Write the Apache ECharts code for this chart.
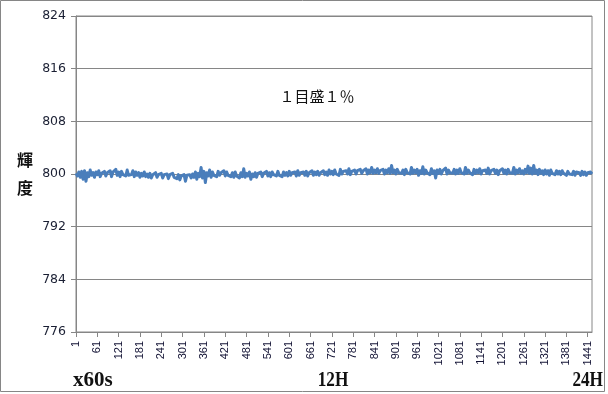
<!DOCTYPE html>
<html><head><meta charset="utf-8">
<script src="https://cdn.jsdelivr.net/npm/echarts@6/dist/echarts.min.js"></script>
<style>html,body{margin:0;padding:0;background:#fff}#c{width:608px;height:394px}</style>
</head><body><div id="c"></div>
<script>
// minute labels (sampled every 4 minutes)
var minutes = [];
for (var m = 1; m <= 1453; m += 4) minutes.push(String(m));

// luminance readings
var luminance = [
800.1,799.7,800.3,799.5,800.4,799.2,800.5,798.9,800.2,799.6,
800.6,799.8,800.2,799.5,800.3,799.9,800.5,799.6,800.1,799.8,
800.4,799.7,800.2,799.9,800.5,799.6,800.3,800.0,800.7,799.8,
800.3,799.6,800.4,799.9,800.2,799.7,800.6,799.8,800.1,799.9,
800.5,799.6,800.3,799.8,800.2,799.5,800.1,799.7,800.3,799.6,
800.0,799.5,800.1,799.4,799.9,799.6,800.2,799.5,799.9,799.7,
800.1,799.4,799.9,799.6,800.0,799.3,799.9,799.7,800.1,799.5,
799.8,799.3,799.9,799.1,799.7,799.4,799.9,798.9,799.8,799.5,
799.9,799.4,800.0,799.5,800.3,799.2,800.1,799.6,801.0,799.4,
800.4,798.7,800.2,799.7,800.6,799.5,800.3,799.8,800.1,799.6,
800.4,799.8,800.2,799.9,800.5,799.7,800.3,799.8,800.1,799.6,
800.2,799.5,800.3,799.7,800.0,799.4,800.2,799.6,800.8,799.5,
800.1,799.7,800.3,799.2,800.0,799.6,800.2,799.5,800.1,799.8,
800.3,799.6,800.1,799.8,800.4,799.7,800.2,799.6,800.3,799.9,
800.2,799.7,800.4,799.8,800.1,799.6,800.3,799.8,800.2,799.7,
800.4,799.8,800.2,799.9,800.3,799.7,800.5,799.8,800.2,799.9,
800.3,799.8,800.4,799.7,800.2,799.9,800.5,799.8,800.3,799.9,
800.4,799.8,800.2,800.0,800.5,799.9,800.3,799.8,800.6,800.0,
800.4,799.9,800.6,800.0,800.3,799.8,800.7,800.0,800.4,800.1,
800.5,800.0,800.8,799.9,800.4,800.1,800.6,800.0,800.5,800.2,
800.7,800.1,800.5,800.2,800.8,800.0,800.6,800.2,801.0,800.1,
800.6,800.2,800.8,800.1,800.5,800.3,800.7,800.0,800.6,800.2,
800.8,800.1,801.3,800.2,800.6,800.0,800.7,800.2,800.5,800.1,
800.6,799.9,800.7,800.2,800.5,800.0,801.0,800.1,800.6,800.2,
800.7,799.8,800.5,800.1,801.1,800.0,800.6,800.2,800.4,799.9,
800.8,800.1,800.5,799.4,800.6,800.1,800.7,800.0,800.5,800.2,
800.9,800.0,800.6,800.2,800.5,800.1,800.7,800.0,800.6,800.1,
800.8,800.2,800.5,800.0,801.0,800.1,800.6,800.2,800.5,799.9,
800.7,800.1,800.6,800.2,800.8,800.0,800.5,800.2,800.6,800.1,
800.9,800.0,800.5,800.2,800.7,800.1,800.6,799.9,800.5,800.2,
800.8,800.1,800.6,800.0,800.7,800.2,800.5,800.1,801.0,800.0,
800.6,800.2,800.8,800.1,800.5,800.0,800.7,800.2,801.2,800.1,
800.9,800.0,801.3,800.1,800.6,799.9,800.7,800.1,800.5,799.9,
800.6,800.0,800.5,799.8,800.6,800.1,800.4,799.9,800.5,800.0,
800.4,799.9,800.5,800.1,800.3,799.8,800.4,800.0,800.3,799.9,
800.4,799.8,800.3,800.0,800.2,799.8,800.4,799.9,800.3,799.8,
800.2,799.9,800.3,800.0
];

var yMin = 776, yMax = 824, yStep = 8;
var annotation = '１目盛１％';
var yTitle = '輝\n度';
var xNotes = ['x60s', '12H', '24H'];

var chart = echarts.init(document.getElementById('c'), null, {renderer: 'canvas'});
var gray = '#868686';
chart.setOption({
  animation: false,
  backgroundColor: '#fff',
  grid: {left: 76, right: 16, top: 16, bottom: 62, show: true, borderColor: gray, borderWidth: 1, backgroundColor: 'transparent'},
  xAxis: {
    type: 'category', data: minutes, boundaryGap: false,
    axisLine: {lineStyle: {color: gray, width: 1}},
    axisTick: {show: true, interval: 14, length: 5, lineStyle: {color: gray}},
    axisLabel: {interval: 14, rotate: 90, margin: 9, fontSize: 11, fontFamily: 'Liberation Sans', color: '#111133'},
    splitLine: {show: false}
  },
  yAxis: {
    type: 'value', min: yMin, max: yMax, interval: yStep,
    axisLine: {show: true, lineStyle: {color: gray, width: 1}},
    axisTick: {show: true, length: 5, lineStyle: {color: gray}},
    axisLabel: {margin: 10, fontSize: 12.5, fontFamily: 'DejaVu Sans', color: '#1a1f33'},
    splitLine: {show: true, lineStyle: {color: gray, width: 1}}
  },
  series: [{
    type: 'line', data: luminance, showSymbol: false, symbol: 'none',
    lineStyle: {color: '#4a7ebb', width: 3, join: 'round'}, itemStyle: {color: '#4a7ebb'}
  }],
  graphic: [
    {type: 'rect', shape: {x: 0.5, y: 0.5, width: 604, height: 391}, style: {fill: 'none', stroke: gray, lineWidth: 1}, silent: true},
    {type: 'text', x: 25, y: 174, style: {text: yTitle, font: 'bold 16px "Noto Sans CJK JP"', fill: '#111', textAlign: 'center', textVerticalAlign: 'middle', lineHeight: 28}},
    {type: 'text', x: 317, y: 96, style: {text: annotation, font: '15px "Noto Sans CJK JP"', fill: '#111', textAlign: 'center', textVerticalAlign: 'middle'}},
    {type: 'text', x: 73, y: 381, style: {text: xNotes[0], font: 'bold 21px "Liberation Serif"', fill: '#111', textAlign: 'left', textVerticalAlign: 'middle'}},
    {type: 'text', x: 333, y: 381, scaleX: 0.82, style: {text: xNotes[1], font: 'bold 21px "Liberation Serif"', fill: '#111', textAlign: 'center', textVerticalAlign: 'middle'}},
    {type: 'text', x: 603, y: 381, scaleX: 0.82, style: {text: xNotes[2], font: 'bold 21px "Liberation Serif"', fill: '#111', textAlign: 'right', textVerticalAlign: 'middle'}}
  ]
});
</script></body></html>
